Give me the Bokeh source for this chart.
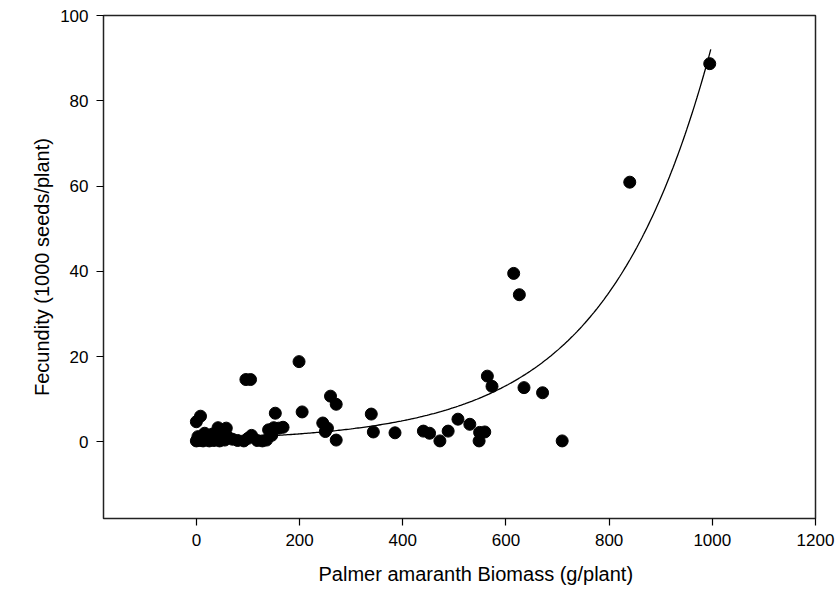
import numpy as np
from bokeh.plotting import figure
from bokeh.models import Range1d, FixedTicker, Title
from bokeh.embed import file_html
from bokeh.resources import INLINE

# Observed data: biomass (g/plant) and fecundity (1000 seeds/plant)
biomass = [0, 8, 0, 3, 6, 10, 13, 16, 19, 22, 25, 28, 31, 34, 37, 40, 42, 45, 48, 52,
           55, 58, 62, 70, 80, 92, 100, 107, 118, 128, 136, 140, 146, 150, 153, 160, 168,
           96, 105, 199, 205,
           245, 254, 250, 260, 271, 271, 339, 343, 385,
           440, 452, 472, 488, 507, 530, 549, 559, 548,
           564, 573, 615, 626, 635, 671, 709, 840, 995]
fecundity = [4.7, 6.0, 0.2, 1.2, 0.3, 0.8, 0.2, 2.0, 0.6, 1.4, 0.2, 0.9, 1.8, 0.3, 0.6, 1.2, 3.3, 0.2, 1.0, 2.0,
             0.4, 3.2, 1.0, 0.6, 0.3, 0.2, 0.8, 1.5, 0.3, 0.2, 0.4, 2.8, 1.5, 3.3, 6.7, 3.2, 3.4,
             14.6, 14.6, 18.8, 7.0,
             4.4, 3.2, 2.4, 10.7, 8.8, 0.4, 6.5, 2.3, 2.1,
             2.5, 2.0, 0.2, 2.5, 5.3, 4.1, 2.2, 2.3, 0.2,
             15.4, 13.0, 39.5, 34.5, 12.7, 11.5, 0.2, 60.9, 88.7]

# Exponential regression fit: y = fit_a * exp(fit_b * x)
fit_a = 0.6955
fit_b = 0.0049
fit_x_min = 0
fit_x_max = 997

x_ticks = [0, 200, 400, 600, 800, 1000, 1200]
y_ticks = [0, 20, 40, 60, 80, 100]
x_title = "Palmer amaranth Biomass (g/plant)"
y_title = "Fecundity (1000 seeds/plant)"

FONT = "Liberation Sans"

p = figure(frame_width=712, frame_height=503, width=840, height=607,
           min_border_left=103, min_border_right=25, min_border_top=15, min_border_bottom=89,
           x_range=Range1d(-180, 1200), y_range=Range1d(-18, 100),
           output_backend="svg", toolbar_location=None, tools="")

fx = np.linspace(fit_x_min, fit_x_max, 300)
fy = fit_a * np.exp(fit_b * fx)
p.line(fx, fy, line_color="black", line_width=1.3)

p.scatter(biomass, fecundity, size=12, fill_color="black", line_color="black")

p.xgrid.visible = False
p.ygrid.visible = False
p.outline_line_color = "#222222"
p.outline_line_width = 1.5
p.background_fill_color = "white"
p.border_fill_color = "white"

for ax in (p.xaxis[0], p.yaxis[0]):
    ax.axis_line_color = None
    ax.major_tick_line_color = "black"
    ax.major_tick_line_width = 1.2
    ax.major_tick_out = 7
    ax.major_tick_in = 0
    ax.minor_tick_line_color = None
    ax.major_label_text_font = FONT
    ax.major_label_text_font_size = "17px"
    ax.major_label_text_color = "black"

p.xaxis[0].ticker = FixedTicker(ticks=x_ticks)
p.yaxis[0].ticker = FixedTicker(ticks=y_ticks)
p.xaxis[0].major_label_standoff = 8
p.yaxis[0].major_label_standoff = 8

p.add_layout(Title(text=x_title, align="left", offset=215, standoff=25,
                   text_font=FONT, text_font_size="20px", text_font_style="normal",
                   text_color="black"), "below")
p.add_layout(Title(text=y_title, align="center", offset=10, standoff=10,
                   text_font=FONT, text_font_size="20px", text_font_style="normal",
                   text_color="black"), "left")

open("out.html", "w").write(file_html(p, INLINE))
